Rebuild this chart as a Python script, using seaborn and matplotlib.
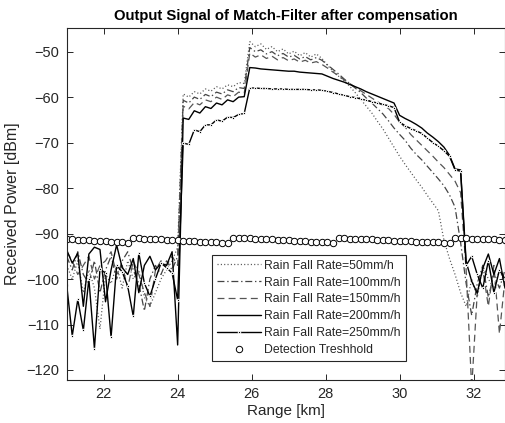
import numpy as np
import pandas as pd
import matplotlib
matplotlib.use("Agg")
import matplotlib.pyplot as plt
import seaborn as sns

# ---------------- data ----------------
range_km = np.round(21.0 + 0.15 * np.arange(80), 2)

rain_50 = [
    -97, -100, -96, -103, -98, -102, -111, -99, -101, -97, -102, -96, -100, -98, -104, -106, -103, -100, -98, -96, -93,
    -59.3, -60.0, -58.8, -59.3, -58.2, -58.7, -57.7, -58.2, -57.3, -57.7, -56.8, -57.0,
    -47.8, -48.9, -48.3, -49.5, -48.9, -50.0, -49.4, -50.5, -49.9, -50.9, -50.2, -51.2, -50.5, -51.5,
    -53.0, -54.3, -55.4, -56.4, -57.6, -59.0, -60.5, -62.0, -63.5, -65.3, -67.0, -69.0, -71.0,
    -73.0, -74.8, -76.5, -78.2, -79.8, -81.6, -83.3, -85.0, -91.5, -95.5, -99.0, -103.0,
    -106, -100, -104, -97, -100, -102, -98, -101]

rain_100 = [
    -95, -98, -94, -99, -101, -96, -103, -98, -95, -100, -96, -94, -98, -101, -107, -100, -97, -99, -96, -98, -95,
    -60.7, -61.3, -60.0, -60.5, -59.4, -59.9, -58.9, -59.3, -58.4, -58.8, -57.9, -58.1,
    -49.1, -50.0, -49.6, -50.5, -50.0, -50.9, -50.4, -51.2, -50.8, -51.6, -51.1, -51.8, -51.3, -51.9,
    -52.9, -53.9, -54.9, -56.0, -57.0, -58.0, -59.0, -60.2, -61.3, -62.5, -63.7, -65.2, -66.8,
    -68.2, -69.5, -71.2, -72.6, -73.8, -75.2, -76.6, -78.0, -79.5, -81.5, -84.2, -92.0,
    -101, -108, -101, -97, -104, -99, -102, -98]

rain_150 = [
    -94, -96, -99, -97, -95, -100, -97, -96, -94, -99, -97, -102, -96, -99, -103, -106, -98, -96, -97, -95, -97,
    -62.0, -62.6, -61.2, -61.7, -60.6, -61.0, -60.0, -60.5, -59.5, -59.9, -58.9, -59.2,
    -50.3, -51.2, -50.7, -51.5, -51.0, -51.8, -51.3, -52.0, -51.6, -52.3, -51.9, -52.5, -52.2, -52.8,
    -53.6, -54.5, -55.3, -56.2, -57.0, -57.8, -58.6, -59.4, -60.2, -61.0, -61.8, -62.5, -63.8,
    -65.5, -66.6, -68.2, -69.4, -70.6, -71.8, -73.0, -74.3, -75.5, -77.0, -78.5, -81.0,
    -98, -124, -103, -98, -106, -97, -112, -100]

rain_200 = [
    -93.6, -96.5, -94.3, -106, -94.5, -93, -93.5, -105, -98, -92.5, -97.5, -99, -95.5, -103, -97, -95, -98, -96.5, -97, -94, -114.5,
    -64.6, -64.9, -63.0, -63.5, -62.1, -62.5, -61.3, -61.7, -60.6, -61.0, -60.0, -59.9,
    -53.5, -53.6, -53.8, -53.9, -54.0, -54.1, -54.2, -54.3, -54.3, -54.5, -54.6, -54.7, -54.8, -54.9,
    -55.4, -55.9, -56.3, -56.7, -57.2, -57.7, -58.2, -58.8, -59.3, -59.8, -60.3, -60.8, -61.3,
    -64.0, -64.7, -65.3, -66.0, -66.8, -67.9, -68.8, -69.8, -71.0, -72.8, -75.8, -76.0,
    -96.2, -100.5, -103.1, -97.6, -94.5, -99, -95.5, -102]

rain_250 = [
    -101.3, -112.5, -104.5, -111.3, -100, -115.3, -97.8, -98.7, -112.8, -97, -98.4, -101.6, -108.2, -94.3, -100.9, -103.8, -100, -96.5, -97.5, -98.7, -104.6,
    -70.1, -70.4, -67.2, -67.6, -66.1, -66.1, -65.0, -65.3, -64.4, -64.5, -63.8, -63.6,
    -58.0, -58.0, -58.1, -58.1, -58.2, -58.2, -58.2, -58.3, -58.3, -58.3, -58.3, -58.4, -58.4, -58.5,
    -58.7, -59.0, -59.3, -59.6, -59.9, -60.1, -60.4, -60.7, -61.0, -61.3, -61.6, -61.9, -62.3,
    -65.5, -66.3, -66.9, -67.4, -68.0, -69.0, -70.0, -70.8, -71.8, -73.0, -76.0, -76.3,
    -97, -95, -99, -102, -96, -103, -98, -100]

threshold = [
    -91.2, -91.3, -91.35, -91.4, -91.5, -91.55, -91.6, -91.7, -91.75, -91.8, -91.9, -92.0,
    -91.0, -91.05, -91.1, -91.2, -91.25, -91.3, -91.35, -91.45, -91.5, -91.55, -91.6, -91.7, -91.75, -91.8, -91.9, -91.95, -92.0, -92.1,
    -90.9, -90.95, -91.0, -91.05, -91.1, -91.2, -91.25, -91.3, -91.35, -91.4, -91.5, -91.55, -91.6, -91.7, -91.75, -91.8, -91.85, -91.9, -92.0,
    -91.0, -91.05, -91.1, -91.15, -91.2, -91.25, -91.3, -91.35, -91.4, -91.5, -91.55, -91.6, -91.65, -91.7, -91.75, -91.8, -91.85, -91.9, -91.95, -92.0, -92.1,
    -90.9, -90.95, -91.0, -91.1, -91.15, -91.2, -91.25, -91.3, -91.35, -91.4]

labels = ["Rain Fall Rate=50mm/h", "Rain Fall Rate=100mm/h", "Rain Fall Rate=150mm/h",
          "Rain Fall Rate=200mm/h", "Rain Fall Rate=250mm/h", "Detection Treshhold"]
x_ticks = [22, 24, 26, 28, 30, 32]
y_ticks = [-50, -60, -70, -80, -90, -100, -110, -120]

# ---------------- style ----------------
sns.set_theme(style="ticks")
plt.rcParams['font.family'] = ['Liberation Sans', 'DejaVu Sans']
plt.rcParams['lines.scale_dashes'] = False
axc = '#262626'

fig = plt.figure(figsize=(5.06, 4.23), dpi=100)
ax = fig.add_axes([0.1318, 0.1017, 0.8662, 0.8321])

series = [rain_50, rain_100, rain_150, rain_200, rain_250]
styles = [
    dict(color='#555555', lw=0.9, linestyle=(0, (0.8, 1.6))),
    dict(color='#444444', lw=0.9, linestyle=(0, (5, 2, 1, 2))),
    dict(color='#555555', lw=0.9, linestyle=(0, (5, 3))),
    dict(color='black', lw=1.0, linestyle='-'),
    dict(color='black', lw=1.0, linestyle='-', marker='.', markersize=3.5),
]
for vals, lab, st in zip(series, labels[:5], styles):
    df = pd.DataFrame({'range': range_km, 'power': vals})
    sns.lineplot(data=df, x='range', y='power', ax=ax, label=lab, **st)

dft = pd.DataFrame({'range': range_km, 'power': threshold})
sns.lineplot(data=dft, x='range', y='power', ax=ax, label=labels[5], color='black',
             linestyle='none', marker='o', markersize=4.6, markerfacecolor='white',
             markeredgecolor='black', markeredgewidth=0.7)

ax.set_xlim(21, 32.85)
ax.set_ylim(-122.2, -44.8)
ax.set_xticks(x_ticks)
ax.set_yticks(y_ticks)
ax.tick_params(direction='in', top=True, right=True, length=4, width=0.7,
               colors=axc, labelsize=10.5, pad=5)
ax.tick_params(axis='y', pad=5.5)
for s in ax.spines.values():
    s.set_color(axc)
    s.set_linewidth(0.8)

ax.set_xlabel('Range [km]', fontsize=11, color=axc, labelpad=2)
ax.set_ylabel('Received Power [dBm]', fontsize=11.5, color=axc, labelpad=4)
ax.set_title('Output Signal of Match-Filter after compensation', fontsize=10.7,
             fontweight='bold', color='black', pad=6)

leg = ax.legend(loc='lower left', bbox_to_anchor=(0.331, 0.054), borderaxespad=0,
                fontsize=8.8, handlelength=3.6, labelspacing=0.4, frameon=True,
                fancybox=False, edgecolor=axc, borderpad=0.4, handletextpad=0.3)
leg.get_frame().set_linewidth(0.8)
leg.get_frame().set_facecolor('white')
leg.get_frame().set_alpha(1)

fig.savefig('out.png', dpi=100)
